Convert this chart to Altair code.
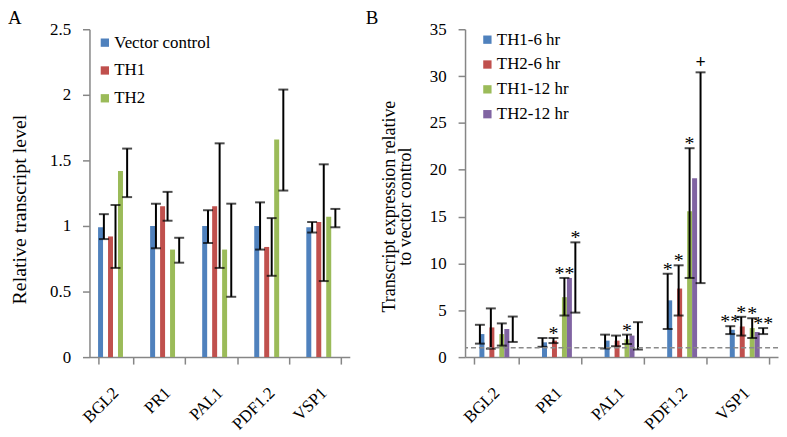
import altair as alt
import pandas as pd

FONT = "Liberation Serif"

genes = ["BGL2", "PR1", "PAL1", "PDF1.2", "VSP1"]

# Panel A
a_series = ["Vector control", "TH1", "TH2"]
a_colors = ["#4F81BD", "#C0504D", "#9BBB59"]
a_vc_mean = [0.99, 1.00, 1.00, 1.00, 0.99]
a_vc_lo = [0.90, 0.83, 0.87, 0.82, 0.95]
a_vc_hi = [1.09, 1.17, 1.12, 1.18, 1.03]
a_th1_mean = [0.92, 1.15, 1.15, 0.84, 1.03]
a_th1_lo = [0.68, 1.04, 0.68, 0.62, 0.58]
a_th1_hi = [1.16, 1.26, 1.63, 1.06, 1.47]
a_th2_mean = [1.42, 0.82, 0.82, 1.66, 1.07]
a_th2_lo = [1.22, 0.72, 0.46, 1.27, 0.99]
a_th2_hi = [1.59, 0.91, 1.17, 2.04, 1.13]

# Panel B
b_series = ["TH1-6 hr", "TH2-6 hr", "TH1-12 hr", "TH2-12 hr"]
b_colors = ["#4F81BD", "#C0504D", "#9BBB59", "#8064A2"]
b_th1_6_mean = [2.46, 1.58, 1.76, 6.06, 2.92]
b_th1_6_lo = [1.44, 1.10, 0.92, 3.00, 2.46]
b_th1_6_hi = [3.45, 2.04, 2.40, 8.90, 3.30]
b_th1_6_sig = ["", "", "", "*", "**"]
b_th2_6_mean = [3.17, 1.76, 1.76, 7.32, 3.27]
b_th2_6_lo = [0.90, 1.50, 1.16, 4.44, 2.30]
b_th2_6_hi = [5.20, 2.04, 2.30, 9.80, 4.30]
b_th2_6_sig = ["", "*", "", "*", "*"]
b_th1_12_mean = [2.46, 6.40, 1.90, 15.56, 3.10]
b_th1_12_lo = [1.23, 4.44, 1.40, 8.45, 2.04]
b_th1_12_hi = [3.60, 8.45, 2.40, 22.30, 4.15]
b_th1_12_sig = ["", "**", "*", "*", "*"]
b_th2_12_mean = [3.00, 8.45, 2.30, 19.10, 2.68]
b_th2_12_lo = [1.62, 4.75, 0.81, 7.90, 2.46]
b_th2_12_hi = [4.33, 12.25, 3.73, 30.40, 3.10]
b_th2_12_sig = ["", "*", "", "+", "**"]

a_ticks = [0, 0.5, 1, 1.5, 2, 2.5]
b_ticks = [0, 5, 10, 15, 20, 25, 30, 35]


def build(series, means, los, his, sigs=None):
    rows = []
    for i, s in enumerate(series):
        for j, g in enumerate(genes):
            rows.append({
                "gene": g, "series": s, "mean": means[i][j],
                "lo": los[i][j], "hi": his[i][j],
                "sig": sigs[i][j] if sigs else "",
            })
    return pd.DataFrame(rows)


dfa = build(a_series,
            [a_vc_mean, a_th1_mean, a_th2_mean],
            [a_vc_lo, a_th1_lo, a_th2_lo],
            [a_vc_hi, a_th1_hi, a_th2_hi])
dfb = build(b_series,
            [b_th1_6_mean, b_th2_6_mean, b_th1_12_mean, b_th2_12_mean],
            [b_th1_6_lo, b_th2_6_lo, b_th1_12_lo, b_th2_12_lo],
            [b_th1_6_hi, b_th2_6_hi, b_th1_12_hi, b_th2_12_hi],
            [b_th1_6_sig, b_th2_6_sig, b_th1_12_sig, b_th2_12_sig])


def panel(df, series, colors, ymax, ticks, title, title_x, title_y, title_size,
          width, height, pad_inner, letter, letter_x, legend_x, legend_y,
          row_pad, dashed=False):
    n = len(series)
    bar_w = width / len(genes) * (1 - pad_inner) / n
    xscale = alt.Scale(type="band", paddingInner=pad_inner, paddingOuter=pad_inner / 2)
    xenc = alt.X("gene:N", sort=genes, title=None, scale=xscale,
                 axis=alt.Axis(labelAngle=-45, labelAlign="right", labelBaseline="middle",
                               labelPadding=26, tickBand="extent", tickSize=7,
                               labelFontSize=17))
    xenc_e = alt.X("gene:N", sort=genes, title=None, scale=xscale, axis=None)
    xoff = alt.XOffset("series:N", sort=series)
    yaxis = alt.Axis(values=ticks, labelExpr="'' + datum.value", tickSize=7,
                     labelPadding=12, titleX=title_x, titleY=title_y,
                     titleBaseline="middle", titleAlign="center", titleAngle=-90,
                     titleFontSize=title_size, titleLineHeight=16, labelFontSize=17)
    yscale = alt.Scale(domain=[0, ymax], nice=False)

    def Y(field):
        return alt.Y(field, type="quantitative", scale=yscale, axis=yaxis, title=title)

    base = alt.Chart(df)
    bars = base.mark_bar().encode(
        x=xenc, xOffset=xoff, y=Y("mean"),
        color=alt.Color("series:N", sort=series,
                        scale=alt.Scale(domain=series, range=colors),
                        legend=alt.Legend(title=None, orient="none", legendX=legend_x,
                                          legendY=legend_y, symbolType="square",
                                          symbolSize=70, symbolStrokeWidth=0,
                                          labelFontSize=17, labelFont=FONT,
                                          rowPadding=row_pad, labelOffset=1,
                                          padding=0)),
    )
    err_layers = []
    txt_layers = []
    for i, s in enumerate(series):
        dx = (i - (n - 1) / 2) * bar_w
        sub = base.transform_filter(alt.datum.series == s)
        err_layers.append(sub.mark_rule(color="black", strokeWidth=2, xOffset=dx).encode(
            x=xenc_e, y=Y("lo"), y2="hi:Q"))
        err_layers.append(sub.mark_tick(color="black", thickness=2, size=10,
                                        xOffset=dx).encode(x=xenc_e, y=Y("hi")))
        err_layers.append(sub.mark_tick(color="black", thickness=2, size=10,
                                        xOffset=dx).encode(x=xenc_e, y=Y("lo")))
        if dashed:
            txt_layers.append(
                sub.transform_filter("datum.sig != '' && datum.sig != '+'").mark_text(
                    font=FONT, fontSize=20, baseline="alphabetic", dy=2, dx=dx,
                    color="black").encode(x=xenc_e, y=Y("hi"), text="sig:N"))
            txt_layers.append(
                sub.transform_filter("datum.sig == '+'").mark_text(
                    font=FONT, fontSize=18, baseline="alphabetic", dy=-4, dx=dx,
                    color="black", fontWeight="bold").encode(x=xenc_e, y=Y("hi"),
                                                             text="sig:N"))
    over = list(err_layers)
    if dashed:
        ref = alt.Chart(pd.DataFrame({"v": [1]})).mark_rule(
            color="#8a8a8a", strokeDash=[5, 3], strokeWidth=1.5).encode(y=Y("v"))
        over.append(ref)
    over += txt_layers
    lab = alt.Chart(pd.DataFrame({"t": [letter]})).mark_text(
        font=FONT, fontSize=19, align="left", baseline="top", color="black").encode(
        text="t:N", x=alt.value(letter_x), y=alt.value(-20))
    over.append(lab)
    overlay = alt.layer(*over)
    return alt.layer(bars, overlay).resolve_scale(x="independent").properties(
        width=width, height=height)


left = panel(dfa, a_series, a_colors, 2.5, a_ticks, "Relative transcript level",
             -70, 181, 20, 262, 330, 0.33, "A", -82, 7, 5, 10)
right = panel(dfb, b_series, b_colors, 35, b_ticks,
              ["Transcript expression relative", "to vector control"],
              -76, 178, 18, 315, 330, 0.30, "B", -100, 14, 2, 7, dashed=True)

chart = alt.hconcat(left, right, spacing=16).resolve_scale(color="independent").properties(
    padding=0
).configure(font=FONT).configure_view(stroke=None).configure_axis(
    grid=False, domainColor="#868686", tickColor="#868686", labelColor="#000000",
    titleColor="#000000", labelFont=FONT, titleFont=FONT, titleFontWeight="normal",
    domainWidth=1.5, tickWidth=1.5,
)

chart.save("out.html", embed_options={"renderer": "svg", "actions": False})
